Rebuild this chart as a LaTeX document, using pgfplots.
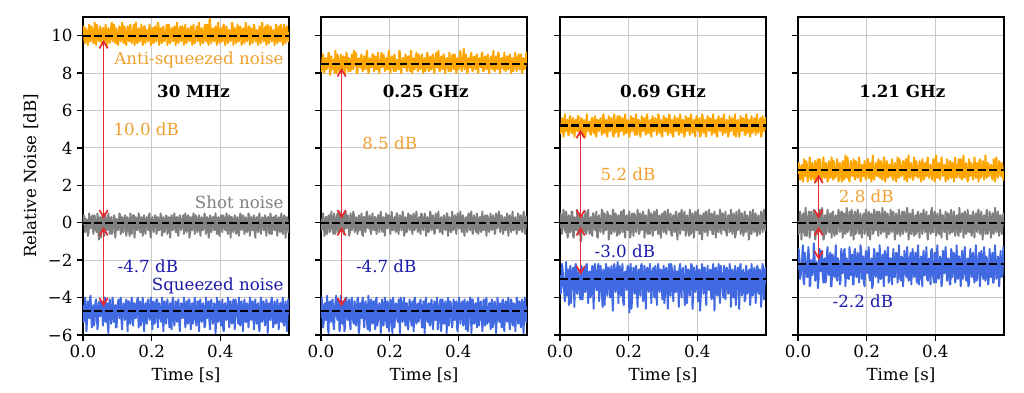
\documentclass[border=0pt]{standalone}
\usepackage{pgfplots}
\pgfplotsset{compat=1.18}
\usepackage{pgfplotstable}
\usepackage{fontspec}
\setmainfont{DejaVu Serif}
\usetikzlibrary{arrows.meta}

\definecolor{cOr}{HTML}{FFA500}
\definecolor{cGr}{HTML}{808080}
\definecolor{cBl}{HTML}{4169E1}
\definecolor{tOr}{HTML}{F0A030}
\definecolor{tBl}{HTML}{1A1AAA}
\definecolor{cRed}{HTML}{E8262E}
\definecolor{gridc}{HTML}{C8C8C8}

\pgfplotstableread{
t o1 g1 b1 o2 g2 b2 o3 g3 b3 o4 g4 b4
0.000 10.2 -0.1 -4.4 8.4 0.2 -5.1 5.3 -0.3 -2.8 2.6 0.1 -2.5
0.002 10.5 0.4 -5.3 8.1 -0.4 -4.0 4.8 0.5 -3.8 3.2 -0.6 -1.4
0.004 9.8 0.3 -4.9 8.7 -0.2 -4.5 5.0 0.2 -3.4 2.9 -0.4 -1.9
0.006 9.6 -0.5 -4.0 9.0 0.5 -5.6 5.6 -0.6 -2.2 2.3 0.6 -3.0
0.008 10.4 -0.4 -4.5 8.3 0.1 -5.3 5.4 -0.1 -2.6 2.5 0.3 -2.8
0.010 10.3 0.2 -5.8 8.0 -0.7 -4.4 4.6 0.7 -3.3 3.0 -0.9 -2.3
0.012 9.9 0.1 -5.2 8.8 -0.5 -4.3 4.9 0.4 -3.6 3.1 -0.2 -2.0
0.014 9.5 -0.7 -4.2 8.8 0.3 -5.2 5.8 -0.3 -4.2 2.2 0.4 -1.2
0.016 10.1 -0.6 -4.6 8.2 0.3 -4.9 5.5 -0.5 -2.9 2.4 0.5 -3.1
0.018 10.6 0.5 -5.1 8.3 -0.6 -3.9 4.9 0.6 -2.1 3.4 -0.5 -3.3
0.020 9.7 0.2 -4.1 8.6 -0.1 -5.6 5.1 0.1 -3.9 2.8 -0.7 -1.6
0.022 9.7 -0.3 -3.9 9.1 0.4 -5.9 5.5 -0.8 -3.6 2.5 0.8 -1.9
0.024 10.5 -0.2 -5.0 8.9 0.4 -4.4 4.7 -0.6 -2.5 3.3 0.2 -2.4
0.026 10.4 0.3 -5.6 7.9 -0.5 -4.2 4.7 0.4 -4.4 3.1 -0.7 -2.9
0.028 10.0 0.4 -4.8 8.1 -0.3 -5.0 5.6 0.3 -3.2 2.2 -0.1 -2.9
0.030 9.6 -0.6 -4.4 8.9 0.6 -5.3 5.7 -0.5 -2.3 2.4 0.3 -1.3
0.032 9.6 -0.3 -5.5 8.5 0.0 -4.2 5.2 -0.2 -4.3 2.7 0.6 -1.8
0.034 10.7 0.4 -5.2 8.2 -0.3 -4.1 4.8 0.6 -3.5 3.5 -0.8 -3.4
0.036 10.3 0.0 -4.3 8.7 -0.6 -5.4 4.8 0.6 -2.7 3.0 -0.5 -3.3
0.038 9.5 -0.4 -4.1 8.7 0.5 -5.7 5.6 -0.7 -2.4 2.3 0.6 -2.0
0.040 10.6 -0.5 -4.7 8.0 0.2 -4.7 5.4 -0.8 -3.1 2.5 0.0 -2.1
0.042 10.3 0.5 -5.7 9.2 -0.6 -4.3 4.6 0.3 -4.5 3.2 -0.4 -2.8
0.044 9.9 0.2 -5.3 8.6 -0.2 -3.9 5.0 0.2 -2.4 2.9 -0.3 -2.6
0.046 9.7 -0.9 -4.3 8.0 0.3 -5.0 5.5 -0.4 -2.2 2.4 0.7 -1.1
0.048 10.2 -0.1 -4.2 9.0 0.5 -5.2 5.3 -0.4 -3.5 2.3 0.4 -1.7
0.050 10.5 0.3 -5.0 8.8 -0.5 -4.1 4.9 0.7 -3.8 3.3 -0.9 -3.1
0.052 9.8 -0.8 -4.9 8.3 -0.4 -4.6 5.7 0.0 -2.8 3.2 -0.6 -2.7
0.054 9.6 -0.5 -4.2 8.1 0.6 -5.8 5.7 -0.6 -2.5 2.2 0.5 -2.1
0.056 10.1 0.3 -4.6 8.5 0.1 -5.5 4.9 0.5 -3.3 2.6 0.2 -2.2
0.058 10.4 0.4 -5.5 9.0 -0.4 -3.9 4.7 0.5 -4.0 3.4 -0.6 -3.5
0.060 10.4 -0.2 -5.1 8.8 -0.1 -4.4 5.1 -1.0 -4.1 2.8 -0.2 -3.0
0.062 9.7 -0.7 -4.0 8.2 0.4 -5.4 5.6 -0.9 -2.3 2.5 0.6 -1.4
0.064 9.7 0.5 -4.0 8.2 0.3 -4.9 5.5 0.3 -2.6 3.4 0.7 -1.5
0.066 10.6 0.3 -5.3 8.9 -0.6 -4.2 4.8 0.4 -4.1 3.1 -0.5 -2.6
0.068 10.0 -0.4 -4.8 8.6 -0.3 -5.8 4.6 -0.3 -3.0 2.4 -0.4 -2.4
0.070 9.5 -0.4 -4.3 8.0 0.5 -5.6 5.5 -0.5 -2.4 2.3 0.8 -1.5
0.072 10.3 0.1 -5.4 8.4 0.6 -4.1 5.3 0.1 -3.7 2.7 0.1 -2.8
0.074 10.4 0.5 -5.9 9.1 -0.3 -4.0 4.6 0.6 -3.7 3.5 -0.9 -3.2
0.076 9.9 -0.1 -4.4 8.9 -0.2 -5.0 5.0 -0.6 -2.3 3.0 -0.8 -2.0
0.078 9.6 -0.6 -4.1 8.3 0.4 -5.2 5.8 -0.4 -2.2 2.4 0.4 -1.9
0.080 10.2 0.2 -4.7 8.1 0.0 -4.5 5.4 0.4 -3.2 2.5 0.4 -3.2
0.082 10.5 0.3 -5.4 8.8 -0.7 -4.1 4.9 0.7 -4.3 3.2 -0.6 -3.0
0.084 10.7 -0.6 -5.0 8.7 -0.5 -5.3 5.2 -0.1 -2.9 2.9 -0.1 -1.8
0.086 9.7 -0.5 -4.0 8.1 0.5 -5.7 5.4 -0.6 -2.6 2.2 0.7 -1.3
0.088 9.8 0.0 -4.3 8.3 0.2 -4.3 4.8 0.2 -4.0 2.3 0.3 -2.5
0.090 10.6 0.4 -5.3 9.0 -0.4 -4.0 4.7 0.3 -3.9 3.3 -0.5 -2.8
0.092 10.1 0.3 -4.9 8.6 -0.1 -4.8 5.6 -0.4 -2.7 3.1 -0.5 -2.3
0.094 9.6 -0.8 -4.4 8.2 0.6 -5.3 5.6 -0.7 -2.3 2.4 0.5 -1.6
0.096 10.4 -0.3 -5.6 9.2 0.4 -5.4 5.1 0.5 -3.4 2.6 0.0 -3.4
0.098 10.3 0.2 -5.6 8.7 -0.5 -4.2 4.8 0.5 -4.6 3.5 -0.8 -3.4
0.100 9.6 0.1 -4.5 8.4 -0.3 -4.6 5.3 -0.2 -2.5 2.8 0.5 -1.7
0.102 9.5 -0.4 -4.2 9.1 0.3 -5.5 5.7 -0.4 -2.2 2.3 0.6 -1.8
0.104 10.0 -0.2 -4.1 8.0 0.1 -5.1 4.7 0.1 -3.1 3.3 -0.3 -2.6
0.106 10.5 0.5 -5.1 8.0 -0.6 -4.1 4.6 0.6 -3.6 3.1 -0.7 -2.9
0.108 10.3 0.4 -4.8 8.7 -0.4 -4.0 5.5 -0.7 -3.6 2.4 0.2 -2.1
0.110 9.7 -0.6 -4.0 8.8 0.4 -5.9 5.5 -0.8 -2.4 2.5 0.4 -1.2
0.112 9.9 -0.5 -5.2 8.5 0.2 -5.6 5.0 0.3 -2.2 2.7 -0.6 -2.9
0.114 10.7 0.3 -5.7 8.3 -0.4 -4.3 4.9 0.4 -4.2 3.4 -0.6 -3.1
0.116 10.2 0.2 -4.6 8.8 0.0 -4.7 5.4 -0.3 -3.3 3.0 0.1 -1.9
0.118 9.6 -0.5 -4.3 9.0 0.5 -5.1 5.6 -0.5 -2.3 2.2 0.7 -2.0
0.120 10.5 -0.1 -4.4 8.2 -0.6 -4.2 5.2 0.0 -2.8 2.5 0.4 -2.4
0.122 10.4 0.4 -5.2 8.1 -0.7 -4.0 4.7 0.7 -3.8 3.2 -0.5 -3.3
0.124 9.7 0.3 -5.0 8.6 0.3 -5.2 4.9 0.6 -4.5 2.9 -0.2 -3.1
0.126 9.5 -0.7 -4.1 8.9 0.3 -5.6 5.8 -0.6 -2.5 2.4 0.6 -1.4
0.128 10.1 -0.4 -4.7 8.3 -0.1 -4.5 5.6 -0.4 -2.6 2.2 0.6 -2.0
0.130 10.5 0.3 -5.8 8.2 -0.5 -4.2 4.8 0.5 -4.4 3.3 -0.8 -2.7
0.132 10.0 0.0 -4.2 8.9 0.5 -4.9 5.1 0.2 -3.0 3.2 -0.4 -2.6
0.134 9.7 -0.4 -4.2 9.2 0.6 -5.3 5.5 -0.4 -2.2 2.3 0.5 -1.5
0.136 10.4 -0.7 -5.3 8.5 -0.2 -5.7 4.8 -0.2 -3.5 2.6 0.0 -1.4
0.138 10.6 0.5 -5.4 8.0 -0.3 -3.9 4.6 0.6 -3.9 3.6 -0.6 -3.4
0.140 9.8 0.2 -4.5 8.1 0.2 -4.4 5.3 0.4 -2.4 2.8 0.3 -2.7
0.142 9.6 -0.6 -4.0 8.8 0.4 -5.8 5.7 -0.9 -2.4 2.4 0.8 -1.9
0.144 10.2 -0.1 -4.9 8.7 -0.4 -5.0 5.0 -0.5 -3.2 3.5 -0.5 -2.2
0.146 10.3 0.4 -5.5 8.3 -0.6 -4.1 4.9 0.4 -4.0 3.1 -0.4 -3.0
0.148 10.6 0.4 -4.3 8.4 0.1 -4.3 5.5 0.1 -2.7 2.4 0.2 -3.0
0.150 9.5 -0.8 -4.3 9.0 0.5 -5.4 5.6 -0.6 -2.3 2.2 0.6 -1.3
0.152 9.9 -0.3 -5.1 9.0 -0.1 -5.3 5.2 -0.1 -3.8 2.7 -0.1 -1.8
0.154 10.7 0.3 -5.1 8.1 -0.4 -4.2 4.7 0.7 -4.7 3.3 -0.7 -2.8
0.156 10.1 0.1 -4.6 8.2 0.3 -4.6 4.6 0.5 -2.9 3.0 0.7 -2.5
0.158 9.6 -0.4 -4.1 8.9 0.3 -5.7 5.8 -0.5 -2.2 2.5 0.5 -1.7
0.160 9.7 -0.2 -4.0 8.6 -0.3 -4.1 5.4 -0.3 -2.5 2.5 -0.3 -3.3
0.162 10.4 0.5 -5.6 8.2 -0.6 -4.0 4.8 0.5 -3.7 3.4 -0.9 -3.3
0.164 10.3 0.3 -4.8 8.8 0.0 -5.5 5.1 0.2 -3.3 2.9 0.1 -1.6
0.166 9.7 -0.5 -4.2 9.1 0.4 -5.2 5.5 -0.7 -2.5 2.3 0.6 -1.4
0.168 10.0 -0.5 -5.5 8.3 0.4 -4.8 5.7 -0.6 -2.1 3.3 -0.6 -2.4
0.170 10.6 0.3 -5.3 8.0 -0.5 -4.3 4.6 0.4 -4.3 3.2 -0.5 -2.9
0.172 10.2 0.0 -4.4 8.5 -0.2 -4.4 4.9 0.0 -3.0 2.6 0.4 -2.0
0.174 9.5 -0.7 -4.0 8.7 0.6 -5.9 5.7 -0.6 -2.3 2.4 0.7 -1.6
0.176 9.8 0.2 -4.9 9.1 0.1 -5.2 5.3 0.3 -3.6 2.8 -0.2 -2.8
0.178 10.5 0.4 -5.8 8.3 -0.4 -4.1 4.9 0.6 -3.9 3.5 -0.6 -3.2
0.180 10.5 -0.3 -4.6 8.4 -0.5 -4.7 5.0 -0.2 -2.7 3.1 0.2 -2.3
0.182 9.6 -0.6 -4.3 9.0 0.3 -5.5 5.6 -0.5 -2.2 2.2 0.5 -1.2
0.184 10.1 0.1 -5.2 8.7 0.2 -5.0 5.5 0.6 -4.2 2.3 -0.4 -1.5
0.186 10.3 0.3 -5.4 8.1 -0.7 -4.0 4.7 0.7 -4.4 3.1 -0.8 -3.0
0.188 9.9 -0.1 -4.2 8.2 0.0 -4.3 5.2 -0.4 -2.8 2.7 0.0 -2.6
0.190 9.7 -0.4 -4.1 8.8 0.5 -5.3 5.8 -0.8 -2.6 2.5 0.4 -1.8
0.192 10.3 0.4 -4.7 8.6 -0.3 -5.6 4.8 0.1 -3.1 3.0 0.5 -3.2
0.194 10.6 0.5 -5.2 8.2 -0.3 -4.2 4.8 0.4 -3.6 3.3 -0.6 -3.4
0.196 10.0 -0.6 -5.0 8.9 0.4 -4.5 5.4 -0.1 -2.4 2.5 -0.3 -2.0
0.198 9.5 -0.8 -4.0 9.2 0.4 -5.8 5.5 -0.4 -2.3 2.3 0.7 -1.5
0.200 9.7 0.2 -4.4 8.3 -0.1 -5.1 5.1 0.3 -3.4 2.9 0.1 -2.5
0.202 10.4 0.3 -5.7 8.0 -0.6 -4.1 4.6 0.6 -4.8 3.4 -0.5 -2.7
0.204 10.4 -0.2 -4.8 8.5 0.2 -4.2 4.9 -0.8 -2.6 3.4 -0.7 -1.8
0.206 9.6 -0.5 -4.2 8.9 0.6 -5.4 5.7 -0.6 -2.2 2.4 0.6 -1.3
0.208 10.1 0.0 -5.4 8.8 -0.4 -5.9 5.6 0.2 -4.6 2.4 0.3 -2.9
0.210 10.5 0.4 -5.3 8.3 -0.4 -4.0 4.9 0.5 -4.1 3.2 -0.9 -3.1
0.212 9.8 0.3 -4.5 8.1 0.1 -4.6 5.2 -0.2 -2.9 2.8 -0.1 -2.2
0.214 9.7 -0.6 -4.1 9.0 0.3 -5.6 5.6 -0.7 -2.4 2.2 0.5 -1.9
0.216 10.2 -0.4 -4.1 8.7 -0.2 -4.9 5.0 0.5 -3.2 3.1 0.4 -3.5
0.218 10.7 0.3 -5.6 8.1 -0.5 -4.3 4.7 0.4 -3.8 3.6 -0.6 -3.3
0.220 10.5 0.1 -4.9 8.4 0.5 -4.4 5.3 -0.3 -2.5 2.6 -0.5 -1.9
0.222 9.5 -0.4 -4.3 8.7 0.5 -5.1 5.8 -0.5 -2.3 2.3 0.7 -1.4
0.224 9.9 -0.2 -4.6 8.6 -0.3 -5.3 4.7 0.0 -3.7 2.7 0.2 -2.4
0.226 10.4 0.5 -5.1 8.2 -0.6 -4.1 4.8 0.7 -4.5 3.1 -0.4 -2.9
0.228 10.0 0.2 -5.3 9.2 0.0 -4.7 5.5 0.4 -2.8 3.2 0.0 -2.7
0.230 9.6 -0.7 -4.0 9.1 0.4 -5.9 5.5 -0.6 -2.5 2.5 0.6 -1.6
0.232 10.3 -0.5 -4.3 8.2 0.3 -4.0 5.1 -0.5 -3.3 2.5 -0.3 -1.7
0.234 10.5 0.3 -5.8 8.0 -0.4 -4.2 4.6 0.5 -3.9 3.4 -0.7 -3.2
0.236 9.8 0.1 -4.8 8.5 -0.2 -5.2 4.9 0.2 -2.3 2.9 0.6 -2.3
0.238 9.7 -0.5 -4.2 8.8 0.6 -5.3 5.7 -0.4 -2.2 2.4 0.5 -1.2
0.240 10.1 -0.1 -5.0 8.8 0.2 -4.5 5.4 -0.1 -3.0 3.3 -0.2 -3.0
0.242 10.3 0.4 -5.4 8.3 -0.7 -4.0 4.9 0.6 -4.2 3.2 -0.6 -3.0
0.244 10.6 0.3 -4.4 8.3 -0.5 -5.0 5.2 0.3 -3.9 2.4 0.1 -2.1
0.246 9.5 -0.6 -4.1 9.0 0.3 -5.5 5.6 -0.8 -2.3 2.3 0.8 -1.7
0.248 10.0 -0.3 -4.7 8.6 0.1 -4.3 5.0 -0.3 -2.7 2.8 -0.4 -2.6
0.250 10.6 0.3 -5.2 8.1 -0.5 -4.3 4.7 0.4 -4.6 3.5 -0.5 -3.4
0.252 9.7 0.0 -5.6 8.4 -0.1 -5.4 5.6 0.1 -3.1 3.0 0.3 -1.6
0.254 9.6 -0.8 -4.3 8.9 0.5 -5.7 5.8 -0.5 -2.4 2.2 0.6 -1.5
0.256 10.2 0.2 -4.5 8.9 0.4 -4.8 4.8 -0.6 -2.5 2.6 -0.1 -2.8
0.258 10.4 0.4 -5.7 8.2 -0.4 -4.1 4.8 0.7 -3.7 3.3 -0.8 -2.8
0.260 10.4 -0.4 -4.2 8.1 -0.2 -4.4 5.3 0.5 -3.5 3.2 0.5 -2.3
0.262 9.7 -0.4 -4.0 9.2 0.4 -5.2 5.5 -0.6 -2.2 2.4 0.4 -1.3
0.264 9.9 0.1 -4.9 8.7 0.0 -5.5 5.1 -0.2 -2.8 2.5 -0.6 -3.2
0.266 10.5 0.5 -5.5 8.0 -0.6 -4.2 4.6 0.5 -4.3 3.1 -0.6 -3.1
0.268 10.1 -0.1 -5.1 8.5 0.3 -4.6 5.5 0.2 -3.3 2.9 0.2 -1.9
0.270 9.5 -0.5 -4.2 8.8 0.5 -5.8 5.7 -0.7 -2.6 2.5 0.7 -1.9
0.272 10.3 0.3 -4.6 8.2 -0.4 -4.1 4.9 -0.4 -2.4 3.1 -0.3 -2.5
0.274 10.7 0.3 -5.3 8.3 -0.3 -4.0 4.9 0.6 -3.9 3.4 -0.5 -3.3
0.276 9.8 -0.6 -4.3 8.8 0.2 -5.1 5.2 0.0 -4.0 2.3 0.4 -2.1
0.278 9.6 -0.7 -4.1 9.1 0.6 -5.4 5.6 -0.4 -2.3 2.3 0.6 -1.4
0.280 10.0 0.2 -5.2 8.4 -0.1 -4.7 5.4 0.4 -2.9 2.7 0.0 -2.9
0.282 10.4 0.4 -5.8 8.1 -0.5 -4.3 4.7 0.7 -4.4 3.2 -0.9 -2.9
0.284 10.5 -0.2 -4.8 9.0 0.1 -5.3 5.0 -0.3 -3.2 3.0 -0.5 -2.2
0.286 9.7 -0.4 -4.3 8.9 0.3 -5.1 5.8 -0.6 -2.2 2.2 0.5 -1.6
0.288 9.9 0.0 -4.4 8.3 -0.3 -4.3 5.7 0.1 -2.6 2.6 0.3 -1.7
0.290 10.5 0.3 -5.1 8.2 -0.6 -4.1 4.8 0.4 -3.7 3.5 -0.6 -3.2
0.292 10.2 0.4 -5.0 8.6 0.5 -4.9 5.1 -0.5 -3.4 2.8 -0.2 -2.7
0.294 9.5 -0.6 -4.0 9.0 0.4 -5.6 5.5 -0.8 -2.5 2.4 0.7 -1.2
0.296 10.0 -0.3 -4.6 8.5 -0.2 -5.6 4.8 0.3 -2.7 3.4 0.1 -2.4
0.298 10.6 0.5 -5.6 8.0 -0.4 -4.2 4.6 0.5 -4.1 3.1 -0.7 -3.0
0.300 9.7 0.1 -5.3 8.7 0.0 -4.5 5.3 -0.2 -3.0 2.5 -0.4 -3.1
0.302 9.6 -0.5 -4.2 8.8 0.5 -5.9 5.7 -0.5 -2.3 2.5 0.4 -1.8
0.304 10.3 -0.1 -4.5 8.1 0.3 -4.2 5.5 0.6 -4.3 2.9 0.6 -2.0
0.306 10.4 0.4 -5.4 8.3 -0.7 -4.0 4.9 0.6 -3.8 3.3 -0.6 -3.4
0.308 10.1 0.3 -4.1 8.9 -0.4 -5.0 4.9 -0.4 -2.5 3.1 -0.1 -2.6
0.310 9.7 -0.8 -4.1 9.1 0.3 -5.3 5.6 -0.6 -2.4 2.3 0.6 -1.5
0.312 9.8 -0.5 -4.9 8.4 0.1 -4.6 5.2 0.1 -3.3 2.4 0.2 -1.8
0.314 10.5 0.3 -5.7 8.1 -0.5 -4.3 4.7 0.7 -4.6 3.4 -0.5 -2.7
0.316 10.4 0.0 -4.7 8.6 -0.1 -5.4 5.0 -0.1 -2.8 2.8 -0.3 -2.9
0.318 9.5 -0.4 -4.3 8.9 0.6 -5.5 5.8 -0.4 -2.2 2.2 0.8 -1.3
0.320 10.0 0.2 -5.4 8.2 0.4 -4.4 5.6 0.3 -3.6 3.2 0.4 -2.3
0.322 10.6 0.5 -5.2 8.2 -0.4 -4.1 4.8 0.5 -3.9 3.6 -0.9 -3.1
0.324 9.6 -0.2 -4.3 8.8 -0.3 -4.9 5.1 -0.6 -2.2 2.6 -0.5 -3.0
0.326 9.6 -0.6 -4.0 9.0 0.4 -5.7 5.5 -0.7 -2.5 2.4 0.5 -1.9
0.328 10.2 0.4 -4.8 8.5 0.2 -5.2 4.7 0.2 -3.1 3.0 0.1 -1.6
0.330 10.3 0.3 -5.5 8.0 -0.6 -4.2 4.6 0.4 -4.2 3.2 -0.6 -3.3
0.332 10.5 -0.3 -5.1 8.3 -0.5 -4.3 5.4 -0.2 -2.9 2.7 0.3 -2.5
0.334 9.7 -0.5 -4.2 8.8 0.5 -5.2 5.7 -0.5 -2.3 2.3 0.7 -1.4
0.336 9.9 0.1 -4.6 9.1 0.0 -4.8 5.2 0.4 -3.7 2.3 -0.2 -2.1
0.338 10.7 0.4 -5.8 8.3 -0.3 -4.0 4.9 0.6 -3.7 3.5 -0.7 -2.9
0.340 10.1 -0.1 -4.2 8.6 0.3 -5.7 5.0 -0.3 -2.6 2.9 0.0 -2.8
0.342 9.5 -0.7 -4.1 9.2 0.6 -5.6 5.6 -0.9 -2.6 2.5 0.4 -1.6
0.344 10.3 0.2 -5.0 8.2 -0.2 -4.5 5.5 0.0 -3.2 3.3 -0.6 -2.4
0.346 10.4 0.3 -5.3 8.1 -0.5 -4.3 4.7 0.5 -4.5 3.1 -0.5 -3.2
0.348 9.8 -0.4 -4.5 8.7 0.1 -4.1 4.9 0.5 -2.4 2.5 0.5 -1.7
0.350 9.6 -0.4 -4.3 8.9 0.3 -5.8 5.8 -0.6 -2.2 2.4 0.6 -1.2
0.352 10.0 0.0 -4.9 8.4 -0.4 -5.1 5.3 -0.1 -3.5 2.8 -0.1 -3.3
0.354 10.5 0.5 -5.6 8.2 -0.6 -4.1 4.8 0.7 -4.0 3.3 -0.8 -3.0
0.356 10.6 0.3 -5.5 8.9 0.2 -4.6 5.1 0.2 -2.8 3.0 0.2 -2.2
0.358 9.7 -0.6 -4.0 9.0 0.4 -5.4 5.5 -0.4 -2.4 2.2 0.5 -1.8
0.360 10.1 -0.2 -4.4 8.3 0.0 -5.3 5.4 -0.4 -3.0 2.6 -0.3 -2.6
0.362 10.6 0.3 -5.1 8.0 -0.4 -4.2 4.6 0.6 -3.8 3.4 -0.6 -3.4
0.364 9.7 0.1 -4.7 8.5 -0.3 -4.4 4.8 0.3 -4.4 3.1 0.4 -1.9
0.366 9.5 -0.8 -4.2 8.8 0.5 -5.9 5.7 -0.7 -2.3 2.3 0.7 -1.5
0.368 10.8 -0.5 -5.2 8.8 0.5 -4.9 5.5 -0.2 -2.5 2.4 -0.2 -2.8
0.370 10.9 0.4 -5.7 8.3 -0.7 -4.0 4.9 0.4 -4.3 3.2 -0.5 -2.8
0.372 10.0 0.2 -4.3 8.1 -0.1 -5.5 5.2 0.1 -3.3 2.7 0.0 -2.3
0.374 9.6 -0.5 -4.1 9.1 0.3 -5.3 5.6 -0.5 -2.5 2.5 0.6 -1.3
0.376 10.3 -0.1 -4.8 8.6 0.2 -4.2 5.0 -0.7 -2.7 3.2 -0.4 -3.0
0.378 10.4 0.3 -5.4 8.1 -0.5 -4.3 4.7 0.7 -3.9 3.5 -0.9 -3.1
0.380 9.9 0.3 -5.0 8.4 -0.5 -4.8 5.6 0.4 -3.1 2.5 0.3 -2.0
0.382 9.7 -0.4 -4.3 8.9 0.6 -5.6 5.8 -0.6 -2.2 2.4 0.4 -1.9
0.384 10.2 -0.3 -4.5 9.0 0.1 -5.2 5.1 -0.1 -2.3 2.9 -0.1 -2.5
0.386 10.5 0.5 -5.9 8.2 -0.4 -4.1 4.8 0.5 -4.6 3.1 -0.6 -3.3
0.388 9.8 0.0 -5.3 8.3 -0.2 -4.6 4.9 0.2 -3.8 3.0 0.6 -1.5
0.390 9.5 -0.6 -4.0 9.0 0.4 -5.2 5.5 -0.8 -2.4 2.3 0.8 -1.4
0.392 10.4 0.1 -4.6 8.7 0.3 -4.3 5.3 -0.3 -2.9 2.6 -0.5 -2.7
0.394 10.7 0.3 -5.3 8.0 -0.6 -4.2 4.6 0.6 -3.7 3.4 -0.5 -2.9
0.396 10.0 -0.6 -4.2 8.5 -0.1 -5.6 5.5 0.5 -3.4 3.3 0.1 -3.2
0.398 9.6 -0.7 -4.2 8.8 0.5 -5.8 5.7 -0.4 -2.3 2.2 0.6 -1.6
0.400 10.1 0.2 -4.9 8.2 0.4 -4.7 5.0 -0.4 -2.6 2.4 0.3 -2.2
0.402 10.4 0.4 -5.5 8.3 -0.3 -4.0 4.9 0.7 -4.2 3.6 -0.7 -3.2
0.404 9.7 -0.1 -4.7 8.8 -0.3 -4.4 5.4 0.0 -3.2 2.8 -0.3 -1.8
0.406 9.7 -0.5 -4.1 9.2 0.6 -5.4 5.6 -0.6 -2.5 2.4 0.5 -1.2
0.408 10.5 0.4 -5.6 8.4 0.0 -5.0 4.6 0.3 -4.7 3.1 0.2 -2.9
0.410 10.6 0.3 -5.8 8.1 -0.5 -4.3 4.7 0.4 -4.0 3.2 -0.6 -3.0
0.412 9.9 -0.2 -4.4 8.6 0.2 -4.2 5.2 -0.5 -2.8 2.5 -0.6 -2.4
0.414 9.5 -0.4 -4.3 8.9 0.4 -5.5 5.8 -0.9 -2.2 2.3 0.7 -1.8
0.416 10.2 0.1 -4.8 9.3 -0.4 -5.3 5.6 0.2 -3.0 2.9 0.0 -2.0
0.418 10.5 0.5 -5.2 8.2 -0.7 -4.1 4.8 0.5 -3.8 3.5 -0.8 -3.4
0.420 10.0 -0.4 -5.1 8.3 0.1 -4.6 5.1 -0.2 -2.4 3.2 0.4 -3.1
0.422 9.6 -0.6 -4.0 9.0 0.3 -5.7 5.5 -0.5 -2.4 2.5 0.4 -1.5
0.424 10.3 0.2 -4.3 8.7 -0.2 -4.9 4.8 0.6 -3.5 2.6 -0.2 -2.6
0.426 10.3 0.4 -5.6 8.0 -0.5 -4.2 4.6 0.6 -4.4 3.1 -0.5 -2.7
0.428 9.8 -0.1 -4.6 8.1 0.3 -5.8 5.3 -0.3 -2.9 2.7 0.1 -1.7
0.430 9.7 -0.8 -4.2 8.8 0.5 -5.3 5.7 -0.7 -2.3 2.2 0.6 -1.3
0.432 10.1 0.3 -5.2 8.5 -0.1 -4.5 5.5 0.1 -3.3 3.0 -0.4 -2.3
0.434 10.7 0.3 -5.4 8.3 -0.4 -4.0 4.9 0.7 -3.6 3.4 -0.9 -3.1
0.436 10.6 -0.3 -4.5 8.9 0.4 -4.1 5.0 -0.1 -2.6 2.4 0.5 -2.8
0.438 9.5 -0.5 -4.1 9.1 0.6 -5.9 5.6 -0.4 -2.5 2.3 0.5 -1.9
0.440 9.9 0.0 -4.9 8.2 -0.3 -5.1 5.3 0.4 -3.9 2.8 -0.1 -2.1
0.442 10.4 0.4 -5.7 8.1 -0.6 -4.1 4.7 0.5 -4.1 3.3 -0.6 -3.3
0.444 10.2 0.2 -4.1 8.6 0.0 -4.7 4.9 -0.6 -2.7 3.3 0.2 -3.3
0.446 9.6 -0.6 -4.3 8.9 0.4 -5.4 5.8 -0.6 -2.2 2.4 0.7 -1.4
0.448 10.0 -0.5 -4.7 8.4 0.2 -5.3 5.4 0.2 -3.1 2.5 -0.5 -1.6
0.450 10.6 0.3 -5.1 8.2 -0.4 -4.3 4.8 0.6 -4.7 3.2 -0.5 -2.9
0.452 9.7 0.1 -5.4 8.8 -0.5 -4.3 5.2 -0.2 -2.5 2.9 0.3 -2.5
0.454 9.7 -0.7 -4.0 9.0 0.5 -5.6 5.5 -0.8 -2.4 2.2 0.6 -1.6
0.456 10.4 -0.2 -4.6 8.3 0.1 -4.9 4.7 0.3 -3.6 3.1 -0.2 -2.0
0.458 10.5 0.5 -5.5 8.0 -0.6 -4.0 4.6 0.4 -3.9 3.5 -0.7 -3.2
0.460 10.1 0.3 -4.3 8.7 -0.2 -5.5 5.5 -0.4 -2.8 2.6 0.0 -2.9
0.462 9.5 -0.4 -4.2 8.8 0.3 -5.2 5.7 -0.5 -2.2 2.4 0.4 -1.2
0.464 9.8 -0.1 -5.0 8.5 0.3 -4.4 5.1 0.1 -3.4 2.7 0.4 -2.4
0.466 10.4 0.4 -5.8 8.3 -0.5 -4.2 4.9 0.7 -4.3 3.1 -0.6 -3.0
0.468 10.3 0.2 -4.8 9.0 0.0 -4.8 5.3 -0.1 -2.3 3.4 -0.7 -1.8
0.470 9.6 -0.6 -4.1 9.1 0.6 -5.8 5.6 -0.6 -2.5 2.5 0.8 -1.8
0.472 10.0 -0.4 -4.4 8.1 -0.4 -5.2 5.0 0.5 -3.2 2.4 0.2 -2.7
0.474 10.7 0.3 -5.3 8.1 -0.4 -4.1 4.7 0.5 -3.7 3.4 -0.5 -3.4
0.476 9.9 0.1 -5.3 8.6 0.2 -4.6 5.6 -0.3 -4.0 2.8 -0.1 -2.2
0.478 9.7 -0.5 -4.3 8.9 0.4 -5.5 5.8 -0.4 -2.3 2.3 0.5 -1.5
0.480 10.2 -0.2 -4.6 8.4 -0.1 -4.2 4.9 0.2 -2.6 3.1 0.5 -3.0
0.482 10.5 0.5 -5.6 8.2 -0.7 -4.0 4.8 0.6 -4.1 3.6 -0.8 -2.8
0.484 10.5 0.4 -4.9 8.8 0.4 -5.4 5.2 -0.5 -3.0 2.5 -0.3 -1.9
0.486 9.5 -0.7 -4.0 9.0 0.3 -5.3 5.5 -0.7 -2.4 2.4 0.6 -1.3
0.488 9.8 -0.3 -4.2 8.3 -0.3 -4.7 5.4 0.0 -2.8 3.0 0.1 -2.6
0.490 10.4 0.3 -5.2 8.0 -0.5 -4.3 4.6 0.4 -3.8 3.2 -0.6 -3.1
0.492 10.1 0.0 -5.1 8.5 0.1 -5.0 4.8 0.4 -3.7 2.7 -0.4 -2.3
0.494 9.6 -0.4 -4.2 8.8 0.5 -5.7 5.7 -0.5 -2.2 2.2 0.7 -1.9
0.496 10.0 0.2 -4.7 8.9 -0.2 -4.3 5.3 -0.3 -2.5 2.3 0.3 -3.4
0.498 10.6 0.4 -5.7 8.3 -0.4 -4.1 4.9 0.7 -4.5 3.4 -0.5 -3.3
0.500 10.4 -0.5 -4.4 8.2 0.3 -5.6 5.1 0.1 -3.3 2.9 0.0 -2.0
0.502 9.7 -0.8 -4.1 9.2 0.4 -5.4 5.6 -0.6 -2.5 2.5 0.4 -1.4
0.504 9.7 0.1 -5.0 8.6 0.0 -4.5 5.5 -0.2 -2.9 3.2 -0.5 -2.5
0.506 10.3 0.3 -5.4 8.1 -0.6 -4.2 4.7 0.5 -4.0 3.1 -0.7 -2.9
0.508 10.2 -0.1 -4.5 8.4 -0.5 -4.9 5.0 0.3 -3.1 2.6 0.4 -1.7
0.510 9.5 -0.5 -4.3 8.9 0.5 -5.9 5.8 -0.8 -2.3 2.3 0.6 -1.6
0.512 10.0 0.3 -5.5 8.7 0.2 -5.1 4.6 -0.6 -4.4 2.8 -0.2 -2.8
0.514 10.5 0.5 -5.8 8.2 -0.3 -4.0 4.8 0.6 -3.7 3.5 -0.8 -3.2
0.516 9.9 -0.2 -4.8 9.1 -0.1 -4.4 5.4 0.2 -2.7 3.0 0.2 -2.2
0.518 9.6 -0.6 -4.0 9.0 0.6 -5.2 5.5 -0.4 -2.4 2.4 0.5 -1.2
0.520 10.3 0.0 -4.3 8.3 0.3 -5.3 5.2 -0.1 -3.2 2.5 -0.3 -3.1
0.522 10.7 0.3 -5.3 8.0 -0.5 -4.3 4.6 0.7 -4.6 3.2 -0.5 -3.0
0.524 10.1 0.2 -4.9 8.5 -0.2 -4.8 4.9 0.4 -2.4 2.9 0.6 -2.4
0.526 9.7 -0.4 -4.2 8.8 0.4 -5.6 5.7 -0.6 -2.2 2.2 0.7 -1.8
0.528 9.8 -0.4 -4.6 8.8 0.1 -4.2 5.5 -0.3 -3.5 3.3 -0.1 -1.6
0.530 10.4 0.4 -5.5 8.3 -0.6 -4.1 4.9 0.5 -3.9 3.4 -0.6 -3.4
0.532 10.5 0.1 -5.2 8.2 -0.4 -5.5 5.1 0.1 -2.8 2.4 0.1 -2.7
0.534 9.5 -0.7 -4.1 9.1 0.3 -5.8 5.6 -0.7 -2.5 2.5 0.6 -1.5
0.536 10.0 -0.1 -4.4 8.6 0.2 -4.6 5.3 -0.4 -3.0 2.8 -0.4 -2.1
0.538 10.6 0.3 -5.9 8.1 -0.4 -4.2 4.7 0.6 -4.2 3.3 -0.9 -2.8
0.540 9.7 0.3 -4.7 8.4 0.0 -5.0 4.7 0.3 -4.1 3.1 0.3 -3.0
0.542 9.6 -0.5 -4.3 8.9 0.5 -5.3 5.8 -0.5 -2.3 2.3 0.4 -1.3
0.544 10.2 -0.6 -5.0 8.9 -0.3 -4.3 5.6 -0.1 -2.6 2.6 -0.2 -2.3
0.546 10.5 0.5 -5.2 8.2 -0.7 -4.0 4.8 0.4 -3.8 3.6 -0.6 -3.1
0.548 10.4 0.2 -4.2 8.3 0.3 -5.2 5.0 0.2 -3.3 2.7 0.4 -1.8
0.550 9.7 -0.6 -4.0 9.0 0.4 -5.7 5.5 -0.9 -2.6 2.4 0.7 -1.9
0.552 9.9 0.0 -4.8 8.7 -0.1 -4.7 5.2 -0.5 -2.5 3.2 -0.6 -2.6
0.554 10.3 0.3 -5.6 8.0 -0.5 -4.1 4.6 0.6 -4.4 3.2 -0.5 -3.3
0.556 10.1 -0.2 -5.3 8.5 0.1 -4.4 5.4 0.3 -3.6 2.5 0.1 -2.9
0.558 9.5 -0.4 -4.2 8.8 0.6 -5.5 5.7 -0.6 -2.2 2.5 0.6 -1.4
0.560 10.0 0.3 -4.5 8.1 -0.4 -5.4 4.8 0.0 -2.9 2.9 0.2 -2.1
0.562 10.6 0.4 -5.4 8.3 -0.4 -4.3 4.9 0.7 -3.9 3.1 -0.8 -2.9
0.564 10.3 -0.3 -4.9 8.8 0.2 -4.5 5.3 -0.2 -3.1 3.0 -0.3 -2.5
0.566 9.6 -0.7 -4.1 9.1 0.3 -5.8 5.6 -0.5 -2.4 2.3 0.5 -1.6
0.568 9.8 0.1 -4.6 8.4 0.0 -5.0 5.1 0.4 -2.7 2.4 0.5 -3.2
0.570 10.5 0.3 -5.7 8.1 -0.6 -4.0 4.7 0.5 -4.3 3.4 -0.6 -3.2
0.572 10.2 -0.1 -5.1 8.6 -0.2 -4.2 5.5 -0.3 -3.4 2.8 -0.1 -1.9
0.574 9.7 -0.5 -4.3 8.9 0.5 -5.4 5.8 -0.7 -2.3 2.2 0.8 -1.2
0.576 10.6 0.2 -4.3 9.0 0.3 -5.3 4.9 0.1 -2.4 3.3 0.3 -2.4
0.578 10.4 0.5 -5.3 8.2 -0.4 -4.2 4.8 0.4 -3.7 3.5 -0.5 -3.0
0.580 9.9 -0.4 -4.7 8.3 -0.3 -4.8 5.2 -0.4 -3.8 2.6 -0.4 -2.8
0.582 9.5 -0.6 -4.0 9.0 0.4 -5.6 5.5 -0.6 -2.5 2.4 0.6 -1.8
0.584 10.1 0.0 -5.4 8.5 0.1 -4.4 5.6 0.2 -2.8 2.7 0.0 -2.0
0.586 10.6 0.4 -5.5 8.0 -0.5 -4.1 4.6 0.6 -4.5 3.3 -0.7 -3.4
0.588 9.7 0.3 -4.5 8.8 -0.1 -5.1 4.8 -0.1 -3.2 3.1 0.4 -2.6
0.590 9.6 -0.8 -4.2 8.8 0.6 -5.9 5.7 -0.5 -2.2 2.5 0.4 -1.5
0.592 10.3 -0.2 -4.8 8.2 0.4 -4.6 5.3 0.3 -2.6 2.5 -0.2 -2.3
0.594 10.5 0.3 -5.8 8.3 -0.6 -4.0 4.9 0.7 -4.1 3.2 -0.6 -2.9
0.596 10.0 0.1 -4.6 8.6 -0.2 -4.9 5.0 -0.3 -3.0 2.9 0.1 -2.7
0.598 9.7 -0.5 -4.1 9.1 0.3 -5.3 5.6 -0.4 -2.4 2.3 0.5 -1.3
0.600 10.2 -0.1 -4.9 8.4 0.0 -4.5 5.4 0.1 -3.3 2.7 -0.1 -2.2
}\noise

\tikzset{
  arr/.style={cRed, line width=1.2pt, {Straight Barb[length=5pt,width=6pt]}-{Straight Barb[length=5pt,width=6pt]}, shorten <=3pt, shorten >=3pt},
  lab/.style={font=\fontsize{12}{14}\selectfont, inner sep=0pt},
  ttl/.style={font=\fontsize{12}{14}\selectfont\bfseries, inner sep=0pt},
}

\pgfplotsset{
  panel/.style={
    scale only axis, width=148.32pt, height=228.96pt,
    anchor=south west,
    xmin=0, xmax=0.6, ymin=-6, ymax=11,
    xtick={0,0.2,0.4}, xticklabels={0.0,0.2,0.4},
    ytick={-6,-4,-2,0,2,4,6,8,10},
    grid=major, major grid style={gridc, line width=0.8pt},
    axis line style={line width=1pt},
    every tick/.style={black, line width=1pt},
    tick align=outside, major tick length=4pt,
    xtick pos=bottom, ytick pos=left,
    xlabel={Time [s]},
    tick label style={font=\fontsize{12}{14}\selectfont},
    label style={font=\fontsize{12}{14}\selectfont},
  },
  tr/.style={line width=1.4pt, line join=round, no marks},
  lvl/.style={black, line width=1.5pt, dash pattern=on 5.5pt off 2.6pt, no marks},
}

\begin{document}
\begin{tikzpicture}
\useasboundingbox (-59.76pt,-41.76pt) rectangle (677.52pt,241.2pt);

% Panel 1
\begin{axis}[panel, at={(0pt,0pt)},
  yticklabels={−6,−4,−2,0,2,4,6,8,10},
  ylabel={Relative Noise [dB]}]
\addplot[tr, cOr] table[x=t, y=o1] {\noise};
\addplot[tr, cGr] table[x=t, y=g1] {\noise};
\addplot[tr, cBl] table[x=t, y=b1] {\noise};
\addplot[lvl] coordinates {(0,10) (0.6,10)};
\addplot[lvl] coordinates {(0,0) (0.6,0)};
\addplot[lvl] coordinates {(0,-4.7) (0.6,-4.7)};
\draw[arr] (axis cs:0.06,10) -- (axis cs:0.06,0);
\draw[arr] (axis cs:0.06,0) -- (axis cs:0.06,-4.7);
\node[lab, tOr, anchor=east] at (axis cs:0.585,8.7) {Anti-squeezed noise};
\node[ttl] at (axis cs:0.322,7.0) {30 MHz};
\node[lab, tOr] at (axis cs:0.184,5.0) {10.0 dB};
\node[lab, cGr, anchor=east] at (axis cs:0.585,1.1) {Shot noise};
\node[lab, tBl] at (axis cs:0.189,-2.35) {-4.7 dB};
\node[lab, tBl, anchor=east] at (axis cs:0.585,-3.35) {Squeezed noise};
\end{axis}

% Panel 2
\begin{axis}[panel, at={(171.36pt,0pt)}, yticklabels={}]
\addplot[tr, cOr] table[x=t, y=o2] {\noise};
\addplot[tr, cGr] table[x=t, y=g2] {\noise};
\addplot[tr, cBl] table[x=t, y=b2] {\noise};
\addplot[lvl] coordinates {(0,8.5) (0.6,8.5)};
\addplot[lvl] coordinates {(0,0) (0.6,0)};
\addplot[lvl] coordinates {(0,-4.7) (0.6,-4.7)};
\draw[arr] (axis cs:0.06,8.5) -- (axis cs:0.06,0);
\draw[arr] (axis cs:0.06,0) -- (axis cs:0.06,-4.7);
\node[ttl] at (axis cs:0.305,7.0) {0.25 GHz};
\node[lab, tOr] at (axis cs:0.2,4.25) {8.5 dB};
\node[lab, tBl] at (axis cs:0.19,-2.35) {-4.7 dB};
\end{axis}

% Panel 3
\begin{axis}[panel, at={(343.44pt,0pt)}, yticklabels={}]
\addplot[tr, cOr] table[x=t, y=o3] {\noise};
\addplot[tr, cGr] table[x=t, y=g3] {\noise};
\addplot[tr, cBl] table[x=t, y=b3] {\noise};
\addplot[lvl] coordinates {(0,5.2) (0.6,5.2)};
\addplot[lvl] coordinates {(0,0) (0.6,0)};
\addplot[lvl] coordinates {(0,-3.0) (0.6,-3.0)};
\draw[arr] (axis cs:0.06,5.2) -- (axis cs:0.06,0);
\draw[arr] (axis cs:0.06,0) -- (axis cs:0.06,-3.0);
\node[ttl] at (axis cs:0.30,7.0) {0.69 GHz};
\node[lab, tOr] at (axis cs:0.198,2.6) {5.2 dB};
\node[lab, tBl] at (axis cs:0.189,-1.5) {-3.0 dB};
\end{axis}

% Panel 4
\begin{axis}[panel, at={(514.8pt,0pt)}, yticklabels={}]
\addplot[tr, cOr] table[x=t, y=o4] {\noise};
\addplot[tr, cGr] table[x=t, y=g4] {\noise};
\addplot[tr, cBl] table[x=t, y=b4] {\noise};
\addplot[lvl] coordinates {(0,2.8) (0.6,2.8)};
\addplot[lvl] coordinates {(0,0) (0.6,0)};
\addplot[lvl] coordinates {(0,-2.2) (0.6,-2.2)};
\draw[arr] (axis cs:0.06,2.8) -- (axis cs:0.06,0);
\draw[arr] (axis cs:0.06,0) -- (axis cs:0.06,-2.2);
\node[ttl] at (axis cs:0.304,7.0) {1.21 GHz};
\node[lab, tOr] at (axis cs:0.199,1.4) {2.8 dB};
\node[lab, tBl] at (axis cs:0.189,-4.2) {-2.2 dB};
\end{axis}
\end{tikzpicture}
\end{document}
